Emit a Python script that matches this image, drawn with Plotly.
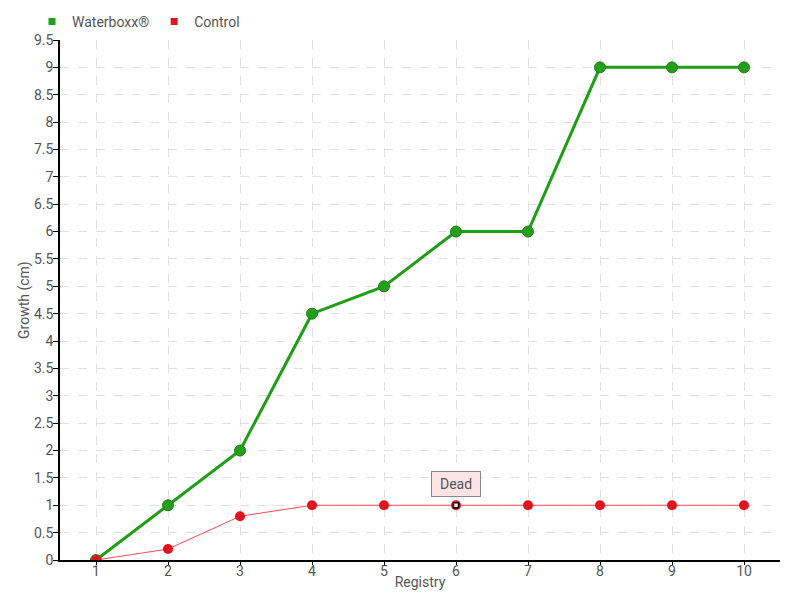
import plotly.graph_objects as go

registry = [1, 2, 3, 4, 5, 6, 7, 8, 9, 10]
waterboxx = [0, 1, 2, 4.5, 5, 6, 6, 9, 9, 9]
control = [0, 0.2, 0.8, 1, 1, 1, 1, 1, 1, 1]
y_ticks = [0, 0.5, 1, 1.5, 2, 2.5, 3, 3.5, 4, 4.5, 5, 5.5, 6, 6.5, 7, 7.5, 8, 8.5, 9, 9.5]
dead_index = 5

font_family = "Roboto, sans-serif"
txt = "#555555"
green = "#1d9e14"
red = "#e3121f"

fig = go.Figure()
fig.add_trace(go.Scatter(
    x=registry, y=waterboxx, name="Waterboxx®", mode="lines+markers", showlegend=False,
    line=dict(color=green, width=3),
    marker=dict(color="#22a01a", size=11, line=dict(color="#2a7a20", width=1)),
))
fig.add_trace(go.Scatter(
    x=registry, y=control, name="Control", mode="lines+markers", showlegend=False,
    line=dict(color="#ff4b58", width=1),
    marker=dict(color=red, size=10, line=dict(width=0)),
))
# "Dead" marker overlay
fig.add_trace(go.Scatter(
    x=[registry[dead_index]], y=[control[dead_index]], mode="markers", showlegend=False,
    hoverinfo="skip",
    marker=dict(symbol="square", color="#ffffff", size=5, line=dict(color="#000000", width=1.5)),
))
# legend entries (square swatches)
fig.add_trace(go.Scatter(x=[None], y=[None], name="Waterboxx®", mode="markers",
                         marker=dict(symbol="square", color="#22a01a", size=7)))
fig.add_trace(go.Scatter(x=[None], y=[None], name="Control", mode="markers",
                         marker=dict(symbol="square", color=red, size=7)))

fig.add_annotation(
    x=registry[dead_index], y=control[dead_index], text="Dead",
    showarrow=False, yanchor="bottom", yshift=8,
    bgcolor="#fde4e4", bordercolor="#888888", borderwidth=1, borderpad=4,
    width=40,
    font=dict(family=font_family, size=14, color=txt),
)
# y-axis title
fig.add_annotation(
    xref="paper", yref="paper", x=0, y=0.5, xshift=-36, xanchor="center", yanchor="middle",
    text="Growth (cm)", textangle=-90, showarrow=False,
    font=dict(family=font_family, size=14, color=txt),
)

fig.update_layout(
    width=800, height=600,
    margin=dict(l=52, r=28, t=32, b=48, autoexpand=False),
    paper_bgcolor="white", plot_bgcolor="white",
    font=dict(family=font_family, size=14, color=txt),
    showlegend=True,
    legend=dict(orientation="h", x=0.03, xref="container", xanchor="left",
                y=0.977, yref="container", yanchor="middle",
                font=dict(size=14, color=txt), itemwidth=30,
                bgcolor="rgba(0,0,0,0)", tracegroupgap=0),
    xaxis=dict(
        range=[0.5, 10.5], tickmode="array", tickvals=registry,
        ticktext=[str(v) for v in registry], automargin=False,
        showline=True, linecolor="black", linewidth=1.5,
        ticks="outside", ticklen=3, tickcolor="black",
        ticklabelstandoff=-6,
        showgrid=True, gridcolor="#e0e0e0", griddash="dash", gridwidth=1,
        zeroline=False,
        title=dict(text="Registry", standoff=0, font=dict(size=14, color=txt)),
        tickfont=dict(size=14, color=txt),
    ),
    yaxis=dict(
        range=[0, 9.5], tickmode="array", tickvals=y_ticks,
        ticktext=[("%g" % v) for v in y_ticks], automargin=False,
        showline=True, linecolor="black", linewidth=1.5,
        ticks="outside", ticklen=5, tickcolor="black",
        ticklabelstandoff=-3,
        showgrid=True, gridcolor="#e0e0e0", griddash="dash", gridwidth=1,
        zeroline=False,
        tickfont=dict(size=14, color=txt),
    ),
)

fig.write_html("out.html")
